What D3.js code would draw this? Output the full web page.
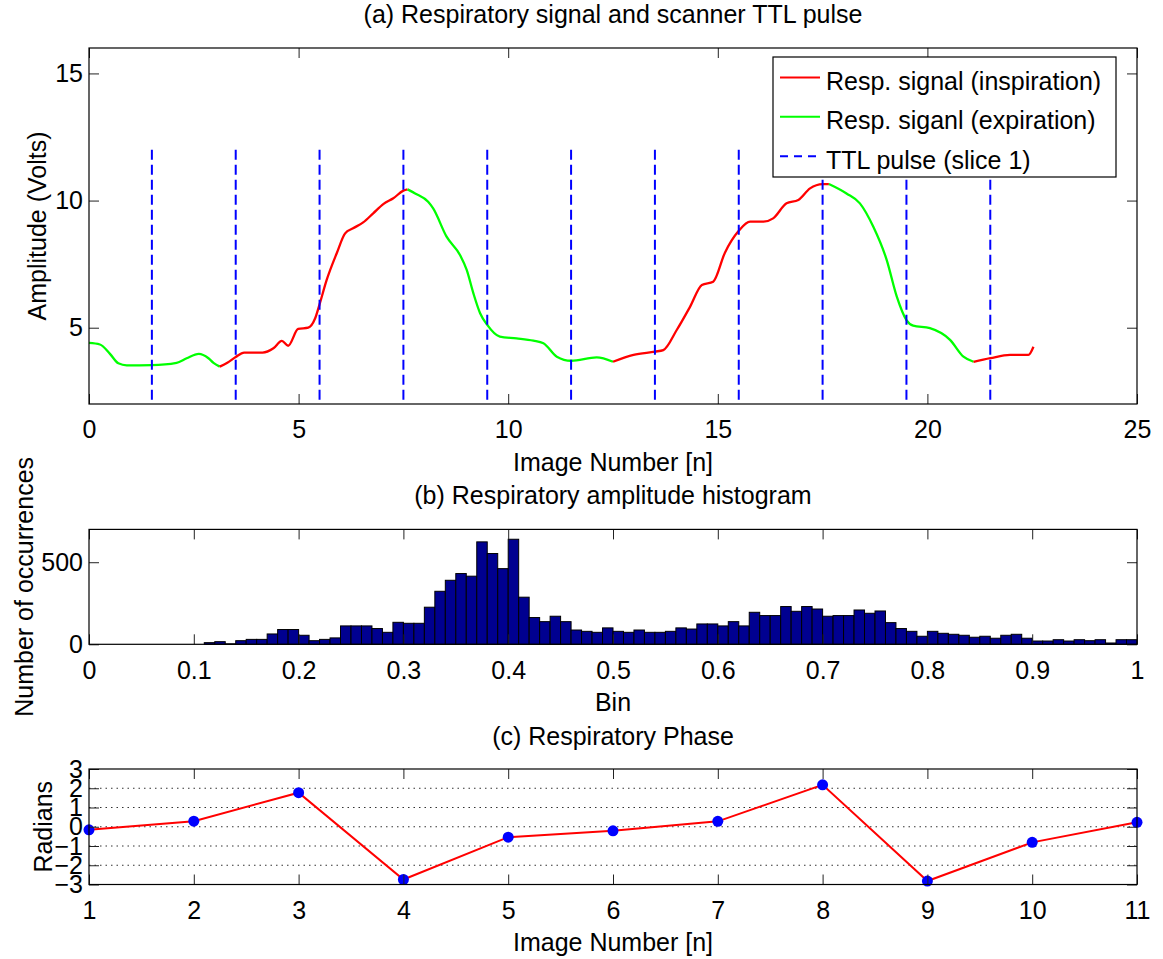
<!DOCTYPE html>
<html><head><meta charset="utf-8">
<script src="https://cdn.jsdelivr.net/npm/d3@7"></script>
<style>
body{margin:0;background:#fff}
text{font-family:"Liberation Sans",Arial,Helvetica,sans-serif;fill:#000}
</style>
</head><body>
<svg id="chart" width="1163" height="959"></svg>
<script>
// ---------- data ----------
const signalTime = [0.00,0.26,0.50,0.70,0.90,1.50,2.09,2.33,2.62,2.85,2.97,3.12,3.30,3.50,3.70,4.14,4.40,4.60,4.75,4.99,5.23,5.39,5.50,5.67,5.91,6.11,6.30,6.54,6.78,7.02,7.26,7.50,7.60,7.78,8.09,8.21,8.53,8.85,9.01,9.17,9.33,9.50,9.80,10.20,10.60,10.84,11.16,11.50,12.11,12.50,12.99,13.50,13.70,14.02,14.34,14.62,14.89,15.17,15.50,15.77,16.09,16.32,16.64,16.92,17.20,17.50,17.65,18.07,18.39,18.71,19.03,19.27,19.50,19.66,20.06,20.54,20.86,21.10,21.50,21.97,22.41,22.53];
const signalAmp  = [4.40,4.34,3.97,3.60,3.52,3.53,3.62,3.80,3.97,3.80,3.62,3.47,3.62,3.85,4.02,4.02,4.19,4.48,4.29,4.95,5.00,5.35,5.92,6.88,7.93,8.71,8.91,9.14,9.50,9.86,10.09,10.39,10.44,10.28,9.95,9.69,8.58,7.86,7.27,6.35,5.57,5.11,4.65,4.58,4.49,4.39,3.86,3.70,3.83,3.66,3.93,4.06,4.12,4.91,5.83,6.68,6.81,7.95,8.81,9.17,9.17,9.30,9.89,10.02,10.48,10.65,10.65,10.28,9.89,8.97,7.66,6.22,5.30,5.08,4.98,4.52,3.86,3.66,3.80,3.93,3.93,4.25];
const phaseBreaks = [0, 3.12, 7.60, 12.50, 17.65, 21.10, 22.53];
const phaseNames  = ["expiration","inspiration","expiration","inspiration","expiration","inspiration"];
const ttlTimes = [1.5,3.5,5.5,7.5,9.5,11.5,13.5,15.5,17.5,19.5,21.5];
const ttlTop = 12;
const legendLabels = ["Resp. signal (inspiration)","Resp. siganl (expiration)","TTL pulse (slice 1)"];
const xTicksA = [0,5,10,15,20,25];
const yTicksA = [5,10,15];

const histCounts = [0,0,0,0,0,0,0,0,0,0,0,10,16,3,22,30,30,63,90,90,55,22,30,39,112,112,112,96,73,134,
  128,128,226,323,390,431,415,624,553,461,640,287,163,138,171,138,87,79,73,100,
  79,73,87,73,73,79,100,93,124,124,112,138,112,195,175,175,230,201,230,215,
  171,175,175,209,189,203,132,96,79,49,79,67,61,55,43,49,37,55,61,37,
  20,20,28,20,28,22,28,8,28,28];
const histBinWidth = 0.01;
const xTicksB = [0,0.1,0.2,0.3,0.4,0.5,0.6,0.7,0.8,0.9,1];
const yTicksB = [0,500];

const phaseImages = [1,2,3,4,5,6,7,8,9,10,11];
const phaseValues = [-0.16,0.29,1.77,-2.74,-0.54,-0.21,0.28,2.18,-2.82,-0.81,0.23];
const yTicksC = [-3,-2,-1,0,1,2,3];
const gridC = [-2,-1,0,1,2];

// ---------- layout ----------
const svg = d3.select("#chart");
const FS = 25;
const L = 89, R = 1137;
const tickCol = "#222";

function axesBox(g, x, y, w, h, xt, yt, xf, yf) {
  g.append("g").attr("transform", `translate(0,${h})`)
    .call(d3.axisBottom(x).tickValues(xt).tickSize(-10).tickPadding(16.5).tickFormat(xf));
  g.append("g").call(d3.axisTop(x).tickValues(xt).tickSize(-10).tickFormat(""));
  g.append("g").call(d3.axisLeft(y).tickValues(yt).tickSize(-10).tickPadding(6).tickFormat(yf));
  g.append("g").attr("transform", `translate(${w},0)`)
    .call(d3.axisRight(y).tickValues(yt).tickSize(-10).tickFormat(""));
  g.selectAll(".domain").remove();
  g.selectAll(".tick line").attr("stroke", tickCol).attr("stroke-width", 1);
  g.selectAll(".tick text").attr("font-size", FS).attr("fill", "#000")
    .style("font-family", '"Liberation Sans",Arial,sans-serif');
  g.append("rect").attr("x", 0).attr("y", 0).attr("width", w).attr("height", h)
    .attr("fill", "none").attr("stroke", "#000").attr("stroke-width", 1.2);
}

function label(txt, x, y, rot) {
  const t = svg.append("text").attr("font-size", FS).attr("text-anchor", "middle").text(txt);
  if (rot) t.attr("transform", `translate(${x},${y}) rotate(-90)`);
  else t.attr("x", x).attr("y", y);
  return t;
}

// ---------- Panel A ----------
{
  const top = 48, bot = 404, w = R - L, h = bot - top;
  const g = svg.append("g").attr("transform", `translate(${L},${top})`);
  const x = d3.scaleLinear().domain([0, 25]).range([0, w]);
  const y = d3.scaleLinear().domain([2, 16]).range([h, 0]);
  const pts = signalTime.map((t, i) => [t, signalAmp[i]]);
  const line = d3.line().x(d => x(d[0])).y(d => y(d[1])).curve(d3.curveMonotoneX);
  const colors = {inspiration: "#ff0000", expiration: "#00ff00"};
  phaseNames.forEach((p, i) => {
    const a = phaseBreaks[i], b = phaseBreaks[i + 1];
    const seg = pts.filter(d => d[0] >= a - 1e-9 && d[0] <= b + 1e-9);
    g.append("path").attr("d", line(seg)).attr("fill", "none")
      .attr("stroke", colors[p]).attr("stroke-width", 2.3).attr("stroke-linejoin", "round");
  });
  g.selectAll(".ttl").data(ttlTimes).join("line").attr("class", "ttl")
    .attr("x1", d => x(d)).attr("x2", d => x(d)).attr("y1", y(ttlTop)).attr("y2", y(2))
    .attr("stroke", "#0000ff").attr("stroke-width", 2).attr("stroke-dasharray", "10,5");
  axesBox(g, x, y, w, h, xTicksA, yTicksA, d3.format("d"), d3.format("d"));

  // legend
  const lg = svg.append("g");
  lg.append("rect").attr("x", 773).attr("y", 57).attr("width", 343).attr("height", 120)
    .attr("fill", "#fff").attr("stroke", "#000").attr("stroke-width", 1.2);
  const rowsY = [77.5, 116.8, 156.2];
  const lcol = ["#ff0000", "#00ff00", "#0000ff"];
  legendLabels.forEach((t, i) => {
    lg.append("line").attr("x1", 780).attr("x2", 820).attr("y1", rowsY[i]).attr("y2", rowsY[i])
      .attr("stroke", lcol[i]).attr("stroke-width", 2)
      .attr("stroke-dasharray", i === 2 ? "8,6" : null);
    lg.append("text").attr("x", 826).attr("y", rowsY[i] + 12.5).attr("font-size", FS).text(t);
  });
  label("(a) Respiratory signal and scanner TTL pulse", (L + R) / 2, 23);
  label("Image Number [n]", (L + R) / 2, 471);
  label("Amplitude (Volts)", 46, (top + bot) / 2, true);
}

// ---------- Panel B ----------
{
  const top = 529.4, bot = 644.3, w = R - L, h = bot - top;
  const g = svg.append("g").attr("transform", `translate(${L},${top})`);
  const x = d3.scaleLinear().domain([0, 1]).range([0, w]);
  const y = d3.scaleLinear().domain([0, 700]).range([h, 0]);
  g.selectAll(".bar").data(histCounts.map((c, i) => ({i, c})).filter(d => d.c > 0))
    .join("rect").attr("class", "bar")
    .attr("x", d => x(d.i * histBinWidth)).attr("width", d => x((d.i + 1) * histBinWidth) - x(d.i * histBinWidth))
    .attr("y", d => y(d.c)).attr("height", d => y(0) - y(d.c))
    .attr("fill", "#000090").attr("stroke", "#000").attr("stroke-width", 1);
  axesBox(g, x, y, w, h, xTicksB, yTicksB, d => d3.format("")(+d.toFixed(1)), d3.format("d"));
  label("(b) Respiratory amplitude histogram", (L + R) / 2, 504);
  label("Bin", (L + R) / 2, 711);
  label("Number of occurrences", 33, (top + bot) / 2, true);
}

// ---------- Panel C ----------
{
  const top = 769, bot = 884.5, w = R - L, h = bot - top;
  const g = svg.append("g").attr("transform", `translate(${L},${top})`);
  const x = d3.scaleLinear().domain([1, 11]).range([0, w]);
  const y = d3.scaleLinear().domain([-3, 3]).range([h, 0]);
  g.selectAll(".grid").data(gridC).join("line").attr("class", "grid")
    .attr("x1", 0).attr("x2", w).attr("y1", d => y(d)).attr("y2", d => y(d))
    .attr("stroke", "#333").attr("stroke-width", 1).attr("stroke-dasharray", "1.5,4");
  const line = d3.line().x((d, i) => x(phaseImages[i])).y(d => y(d));
  g.append("path").attr("d", line(phaseValues)).attr("fill", "none")
    .attr("stroke", "#ff0000").attr("stroke-width", 2);
  g.selectAll(".pt").data(phaseValues).join("circle").attr("class", "pt")
    .attr("cx", (d, i) => x(phaseImages[i])).attr("cy", d => y(d)).attr("r", 5.5)
    .attr("fill", "#0000ff");
  axesBox(g, x, y, w, h, phaseImages, yTicksC, d3.format("d"), d3.format("d"));
  label("(c) Respiratory Phase", (L + R) / 2, 745);
  label("Image Number [n]", (L + R) / 2, 951);
  label("Radians", 52, (top + bot) / 2, true);
}
</script>
</body></html>
